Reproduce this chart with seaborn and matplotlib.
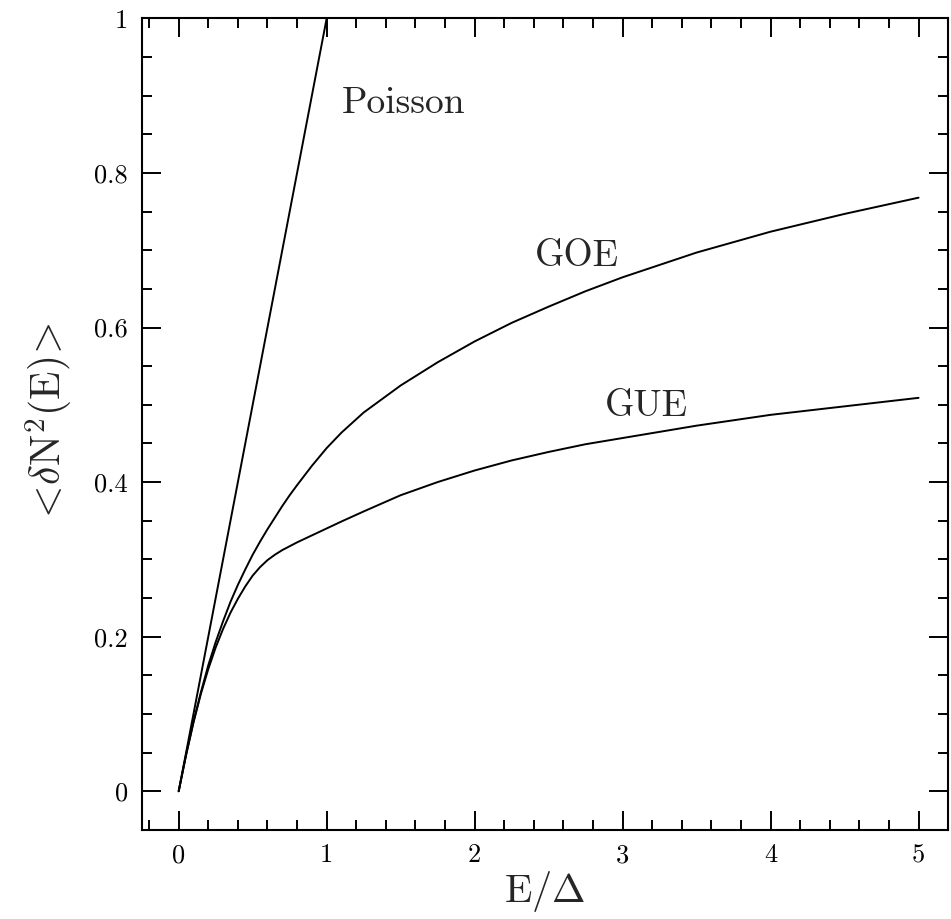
import matplotlib
matplotlib.use("Agg")
import matplotlib.pyplot as plt
import seaborn as sns
from matplotlib.ticker import MultipleLocator

# values
energy = [0, 0.05, 0.1, 0.15, 0.2, 0.25, 0.3, 0.35, 0.4, 0.45, 0.5, 0.55,
          0.6, 0.65, 0.7, 0.75, 0.8, 0.9, 1.0, 1.1, 1.25, 1.5, 1.75, 2.0,
          2.25, 2.5, 2.75, 3.0, 3.5, 4.0, 4.5, 5.0]
goe = [0, 0.047, 0.090, 0.128, 0.163, 0.193, 0.220, 0.245, 0.267, 0.287,
       0.306, 0.323, 0.339, 0.354, 0.369, 0.383, 0.396, 0.421, 0.444, 0.464,
       0.490, 0.525, 0.555, 0.582, 0.606, 0.627, 0.647, 0.665, 0.697, 0.724,
       0.747, 0.768]
gue = [0, 0.047, 0.089, 0.126, 0.158, 0.186, 0.210, 0.231, 0.249, 0.265,
       0.279, 0.290, 0.299, 0.306, 0.312, 0.317, 0.322, 0.331, 0.340, 0.349,
       0.362, 0.383, 0.400, 0.415, 0.428, 0.439, 0.449, 0.457, 0.473, 0.487,
       0.498, 0.509]
poisson_x = [0, 1]
poisson_y = [0, 1]

xticks = [0, 1, 2, 3, 4, 5]
xticklabels = ["0", "1", "2", "3", "4", "5"]
yticks = [0, 0.2, 0.4, 0.6, 0.8, 1]
yticklabels = ["0", "0.2", "0.4", "0.6", "0.8", "1"]

sns.set_style("ticks")
plt.rcParams["font.family"] = ["cmr10", "DejaVu Serif"]
plt.rcParams["mathtext.fontset"] = "cm"
plt.rcParams["axes.formatter.use_mathtext"] = True

fig = plt.figure(figsize=(9.51, 9.19), dpi=100)
ax = fig.add_axes([0.149, 0.097, 0.848, 0.883])

sns.lineplot(x=poisson_x, y=poisson_y, ax=ax, color="black", lw=1.4, sort=False, estimator=None)
sns.lineplot(x=energy, y=goe, ax=ax, color="black", lw=1.4, sort=False, estimator=None)
sns.lineplot(x=energy, y=gue, ax=ax, color="black", lw=1.4, sort=False, estimator=None)

ax.set_xlim(-0.25, 5.2)
ax.set_ylim(-0.05, 1.0)

ax.set_xticks(xticks)
ax.set_xticklabels(xticklabels)
ax.set_yticks(yticks)
ax.set_yticklabels(yticklabels)
ax.xaxis.set_minor_locator(MultipleLocator(0.2))
ax.yaxis.set_minor_locator(MultipleLocator(0.05))
ax.tick_params(which="both", direction="in", top=True, right=True, width=1.4, colors="black")
ax.tick_params(which="major", length=14, labelsize=19, pad=10)
ax.tick_params(which="minor", length=7)

for s in ax.spines.values():
    s.set_linewidth(1.5)
    s.set_color("black")

ax.text(1.1, 0.878, "Poisson", fontsize=27)
ax.text(2.41, 0.68, "GOE", fontsize=27)
ax.text(2.88, 0.486, "GUE", fontsize=27)

ax.set_xlabel(r"$\mathrm{E}/\Delta$", fontsize=29, labelpad=1)
ax.set_ylabel(r"$<\!\delta\mathrm{N}^2\mathrm{(E)}\!>$", fontsize=30, labelpad=14)

fig.savefig("out.png", dpi=100)
